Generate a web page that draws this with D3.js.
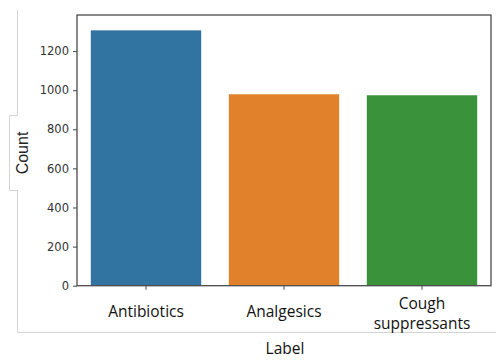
<!DOCTYPE html>
<html><head><meta charset="utf-8">
<script src="https://cdn.jsdelivr.net/npm/d3@7"></script>
<style>body{margin:0;background:#fff;} svg{display:block;}</style>
</head><body>
<svg id="c" width="496" height="360"></svg>
<script>
const categories = ["Antibiotics", "Analgesics", "Cough suppressants"];
const counts = [1306, 979, 974];
const colors = ["#3274a1", "#e1812c", "#3a923a"];
const yTicks = [0, 200, 400, 600, 800, 1000, 1200];
const xLabelLines = [["Antibiotics"], ["Analgesics"], ["Cough", "suppressants"]];

const svg = d3.select("#c");
const L = 77, R = 491, T = 15, B = 285.7;

// light grey decorative frame
svg.append("path")
  .attr("d", "M17.5,10 V115.5 H9.5 V190.5 H17.5 V332.5 H496")
  .attr("fill", "none").attr("stroke", "#d4d4d4").attr("stroke-width", 1);

const x = d3.scaleBand().domain(categories).range([L, R]).paddingInner(0.2).paddingOuter(0.1);
const y = d3.scaleLinear().domain([0, 1384.5]).range([B, T]);

svg.selectAll("rect.bar").data(categories).join("rect")
  .attr("class", "bar")
  .attr("x", d => x(d)).attr("width", x.bandwidth())
  .attr("y", (d, i) => y(counts[i])).attr("height", (d, i) => B - y(counts[i]))
  .attr("fill", (d, i) => colors[i]);

// y axis
const yAx = svg.append("g").attr("transform", `translate(${L},0)`)
  .call(d3.axisLeft(y).tickValues(yTicks).tickFormat(d3.format("d")).tickSize(4).tickPadding(4));
yAx.select(".domain").remove();
yAx.selectAll(".tick line").attr("stroke", "#444");
yAx.selectAll(".tick text").attr("fill", "#333")
  .style("font-family", "'DejaVu Sans', sans-serif").style("font-size", "11.5px");

// x axis ticks
const xAx = svg.append("g").attr("transform", `translate(0,${B})`)
  .call(d3.axisBottom(x).tickSize(4).tickFormat(""));
xAx.select(".domain").remove();
xAx.selectAll(".tick line").attr("stroke", "#444");

// frame
svg.append("rect").attr("x", L).attr("y", T).attr("width", R - L).attr("height", B - T)
  .attr("fill", "none").attr("stroke", "#4a4a4a").attr("stroke-width", 1.3);

// x labels
const xl = svg.append("g").style("font-family", "'Open Sans', sans-serif").style("font-size", "15.5px").attr("fill", "#111");
categories.forEach((c, i) => {
  const lines = xLabelLines[i];
  const cx = x(c) + x.bandwidth() / 2;
  const t = xl.append("text").attr("text-anchor", "middle").attr("x", cx)
    .attr("y", lines.length === 1 ? 317 : 309);
  lines.forEach((ln, j) => t.append("tspan").attr("x", cx).attr("dy", j === 0 ? 0 : 20).text(ln));
});

svg.append("text").attr("x", 285).attr("y", 354).attr("text-anchor", "middle")
  .style("font-family", "'Open Sans', sans-serif").style("font-size", "15.5px").attr("fill", "#111").text("Label");

svg.append("text").attr("transform", "translate(28,153) rotate(-90)").attr("text-anchor", "middle")
  .style("font-family", "'Liberation Sans', Arial, sans-serif").style("font-size", "16px").style("font-weight", "400").attr("fill", "#222").text("Count");
</script>
</body></html>
